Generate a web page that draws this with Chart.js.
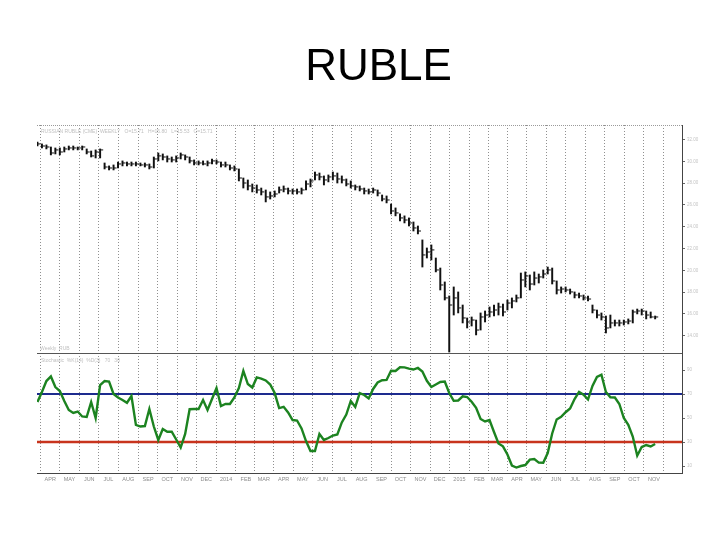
<!DOCTYPE html>
<html>
<head>
<meta charset="utf-8">
<script src="https://cdn.jsdelivr.net/npm/chart.js@4.4.1/dist/chart.umd.min.js"></script>
<style>
  html, body { margin: 0; padding: 0; background: #fff; }
  canvas { display: block; }
</style>
</head>
<body>
<canvas id="graphique" width="720" height="540"></canvas>
<script>
// ------------------------------------------------------------
// Rouble — barres hebdomadaires (haut / bas / clôture) en haut,
// oscillateur avec niveaux 70 / 30 en bas. Axe X = n° de semaine.
// ------------------------------------------------------------

// Prix en USD pour 1000 RUB, une valeur par semaine
const HAUTS = [
  31.79, 31.61, 31.52, 31.33, 31.24, 31.24, 31.33, 31.42, 31.42, 31.33,
  31.42, 31.15, 30.96, 31.06, 31.15, 29.86, 29.59, 29.68, 29.95, 30.05,
  29.95, 29.95, 29.95, 29.86, 29.86, 29.77, 30.41, 30.78, 30.69, 30.51,
  30.41, 30.51, 30.78, 30.60, 30.41, 30.14, 30.05, 30.05, 30.05, 30.23,
  30.14, 29.95, 29.95, 29.68, 29.59, 29.31, 28.48, 28.30, 27.93, 27.84,
  27.56, 27.38, 27.20, 27.29, 27.66, 27.75, 27.56, 27.47, 27.47, 27.56,
  28.21, 28.39, 29.03, 28.94, 28.67, 28.76, 29.03, 28.94, 28.67, 28.39,
  28.21, 27.84, 27.75, 27.56, 27.47, 27.56, 27.38, 26.92, 26.83, 26.09,
  25.73, 25.18, 25.00, 24.81, 24.44, 24.07, 22.79, 22.05, 22.33, 21.13,
  20.21, 18.93, 17.64, 18.47, 18.01, 16.81, 15.62, 15.71, 15.43, 16.08,
  16.26, 16.63, 16.81, 16.99, 16.90, 17.27, 17.46, 17.73, 19.75, 19.85,
  19.57, 19.85, 19.66, 20.03, 20.30, 20.21, 19.02, 18.47, 18.47, 18.28,
  18.01, 17.91, 17.73, 17.64, 16.81, 16.35, 16.08, 15.80, 15.89, 15.43,
  15.43, 15.43, 15.53, 16.35, 16.44, 16.44, 16.26, 16.17, 15.80,
]
const BAS = [
  31.42, 31.24, 31.15, 30.60, 30.69, 30.60, 30.87, 31.06, 31.06, 31.06,
  31.06, 30.69, 30.41, 30.32, 30.32, 29.31, 29.22, 29.22, 29.40, 29.59,
  29.59, 29.59, 29.59, 29.59, 29.49, 29.31, 29.40, 30.05, 30.14, 29.95,
  29.95, 29.95, 30.23, 30.14, 29.86, 29.68, 29.68, 29.68, 29.59, 29.77,
  29.77, 29.49, 29.49, 29.22, 29.13, 28.21, 27.56, 27.38, 27.20, 27.10,
  26.92, 26.28, 26.55, 26.74, 27.10, 27.20, 27.01, 27.01, 27.01, 27.01,
  27.38, 27.66, 28.30, 28.30, 27.84, 28.12, 28.30, 28.02, 28.02, 27.75,
  27.56, 27.38, 27.29, 27.01, 27.01, 27.10, 26.83, 26.37, 26.19, 25.18,
  25.00, 24.53, 24.35, 24.07, 23.61, 23.34, 20.30, 21.13, 20.95, 19.85,
  18.19, 17.27, 12.49, 15.89, 16.08, 15.16, 14.70, 14.88, 14.06, 14.51,
  15.25, 15.71, 15.80, 15.89, 15.80, 16.35, 16.54, 17.09, 17.46, 18.47,
  18.19, 18.65, 18.83, 19.29, 19.66, 18.74, 17.82, 17.91, 18.01, 17.82,
  17.46, 17.46, 17.27, 17.18, 16.08, 15.62, 15.43, 14.24, 14.70, 14.88,
  14.88, 14.97, 15.07, 15.16, 15.99, 15.89, 15.53, 15.62, 15.53,
]
const CLOTURES = [
  31.61, 31.42, 31.33, 30.78, 31.06, 30.87, 31.15, 31.24, 31.24, 31.24,
  31.33, 30.87, 30.51, 30.87, 31.06, 29.49, 29.40, 29.40, 29.77, 29.86,
  29.77, 29.77, 29.77, 29.68, 29.68, 29.49, 30.23, 30.51, 30.41, 30.23,
  30.14, 30.32, 30.60, 30.41, 30.05, 29.86, 29.86, 29.77, 29.86, 30.05,
  29.95, 29.68, 29.68, 29.40, 29.31, 28.48, 28.02, 27.75, 27.56, 27.38,
  27.20, 26.74, 26.83, 27.01, 27.38, 27.47, 27.29, 27.29, 27.20, 27.38,
  27.93, 28.21, 28.76, 28.58, 28.30, 28.58, 28.67, 28.39, 28.30, 27.93,
  27.75, 27.66, 27.47, 27.29, 27.20, 27.38, 27.10, 26.55, 26.46, 25.45,
  25.27, 24.81, 24.62, 24.35, 23.89, 23.61, 21.41, 21.68, 21.87, 20.03,
  18.65, 17.46, 16.81, 17.46, 16.54, 15.62, 15.25, 15.43, 14.51, 15.71,
  15.89, 16.17, 16.35, 16.63, 16.17, 16.99, 17.18, 17.46, 19.11, 19.48,
  18.74, 19.29, 19.39, 19.66, 20.03, 19.02, 18.19, 18.28, 18.19, 18.01,
  17.73, 17.64, 17.46, 17.36, 16.35, 15.89, 15.71, 14.70, 15.16, 15.16,
  15.16, 15.25, 15.34, 16.17, 16.26, 16.26, 15.89, 15.71, 15.71,
]

// Oscillateur (0–100), une valeur par semaine
const OSCILLATEUR = [
  63.3, 71.7, 80.8, 84.6, 75.8, 72.5, 64.2, 56.7, 54.2, 55.4,
  51.3, 50.8, 63.3, 50.0, 77.5, 80.8, 80.3, 70.0, 67.1, 65.0,
  62.7, 68.3, 44.2, 42.9, 43.3, 57.5, 42.9, 31.7, 40.8, 38.6,
  38.6, 32.1, 25.4, 36.7, 57.3, 57.5, 57.5, 65.0, 56.7, 65.8,
  75.0, 60.0, 61.7, 61.7, 67.1, 75.0, 89.2, 78.3, 75.4, 83.8,
  82.9, 81.3, 77.9, 70.8, 58.3, 59.3, 54.6, 48.3, 47.9, 41.3,
  30.8, 22.5, 22.5, 36.7, 31.7, 33.3, 35.4, 36.3, 46.3, 52.9,
  64.2, 59.2, 70.8, 69.2, 66.3, 74.2, 79.6, 81.5, 81.7, 89.3,
  89.2, 92.3, 92.2, 91.2, 90.4, 91.7, 88.8, 81.0, 75.8, 77.9,
  80.0, 80.4, 70.8, 64.3, 64.6, 68.1, 67.5, 63.6, 58.5, 49.2,
  47.1, 48.3, 38.3, 28.8, 26.4, 19.6, 10.4, 8.7, 10.0, 10.8,
  15.3, 15.8, 12.8, 12.7, 20.8, 37.1, 48.8, 51.0, 54.8, 57.9,
  65.8, 71.7, 69.5, 65.4, 76.7, 84.2, 86.1, 71.7, 67.3, 67.1,
  61.7, 50.0, 44.4, 34.6, 18.6, 25.8, 27.5, 26.3, 28.3,
]
const NIVEAU_HAUT = 70
const NIVEAU_BAS = 30

// Étiquettes de l'axe X : un mois par graduation, d'avril 2013 à novembre 2015
const MOIS = [
  'APR', 'MAY', 'JUN', 'JUL', 'AUG', 'SEP', 'OCT', 'NOV', 'DEC',
  '2014', 'FEB', 'MAR', 'APR', 'MAY', 'JUN', 'JUL', 'AUG', 'SEP', 'OCT', 'NOV', 'DEC',
  '2015', 'FEB', 'MAR', 'APR', 'MAY', 'JUN', 'JUL', 'AUG', 'SEP', 'OCT', 'NOV',
]
const TICKS_PRIX = [14, 16, 18, 20, 22, 24, 26, 28, 30, 32]
const TICKS_OSC = [10, 30, 50, 70, 90]

const NOIR   = '#111111'
const VERT   = '#1c8320'
const BLEU   = '#1d2b8e'
const ROUGE  = '#c8341d'
const GRILLE = '#8f8f8f'
const GRIS   = '#8c8c8c'
const FONTE  = "'Liberation Sans', Arial, sans-serif"

// Semaine 0 = 12 mars 2013 ; graduations au 1er de chaque mois
const DEBUT = Date.UTC(2013, 2, 12)
const SEMAINE = 7 * 86400000
const positionsMois = MOIS.map((_, k) => (Date.UTC(2013, 3 + k, 1) - DEBUT) / SEMAINE)
const X_MIN = -0.1
const X_MAX = 144.0

const barresHB = HAUTS.map((h, i) => ({ x: i, y: [BAS[i], h] }))
const tiretsCloture = CLOTURES.map((c, i) => ({ x: i + 0.33, y: c }))
const courbeOsc = OSCILLATEUR.map((v, i) => ({ x: i, y: v }))
const horizontale = v => [{ x: X_MIN, y: v }, { x: X_MAX, y: v }]

// Cadre : ligne pointillée en haut, séparation entre les deux panneaux
const cadre = {
  id: 'cadre',
  beforeDatasetsDraw(chart) {
    const { ctx, chartArea, scales } = chart
    ctx.save()
    ctx.strokeStyle = '#9a9a9a'
    ctx.lineWidth = 1
    ctx.setLineDash([1, 1])
    ctx.beginPath()
    ctx.moveTo(chartArea.left, chartArea.top + 0.5)
    ctx.lineTo(chartArea.right, chartArea.top + 0.5)
    ctx.stroke()
    ctx.setLineDash([])
    ctx.strokeStyle = '#555'
    ctx.beginPath()
    ctx.moveTo(chartArea.left, Math.round(scales.y.bottom) + 0.5)
    ctx.lineTo(chartArea.right, Math.round(scales.y.bottom) + 0.5)
    ctx.stroke()
    ctx.restore()
  },
  afterDraw(chart) {
    const { ctx, chartArea, scales } = chart
    ctx.save()
    ctx.font = `5px ${FONTE}`
    ctx.fillStyle = '#c0c0c0'
    ctx.textBaseline = 'top'
    ctx.fillText('RUSSIAN RUBLE (CME)  WEEKLY   O=15.71   H=15.80   L=15.53   C=15.71', chartArea.left + 4, chartArea.top + 4)
    ctx.fillText('Weekly  RUB', chartArea.left + 3, scales.y.bottom - 7)
    ctx.fillText('Stochastic  %K(14)  %D(3)   70   30', chartArea.left + 4, scales.y2.top + 5)
    ctx.restore()
  },
}

const fondBlanc = {
  id: 'fondBlanc',
  beforeDraw(chart) {
    const { ctx, width, height } = chart
    ctx.save()
    ctx.fillStyle = '#FFFFFF'
    ctx.fillRect(0, 0, width, height)
    ctx.restore()
  },
}

const axeDroit = (min, max, poids, valeurs, format) => ({
  type: 'linear', position: 'right', stack: 'panneaux', stackWeight: poids,
  min, max,
  afterBuildTicks: s => { s.ticks = valeurs.map(v => ({ value: v })) },
  afterFit: s => { s.width = 38 },
  ticks: { font: { family: FONTE, size: 4.5 }, color: '#c4c4c4', padding: 2, callback: format },
  grid: { drawOnChartArea: false, tickLength: 3, tickColor: '#666', tickWidth: 1 },
  border: { color: '#444', width: 1 },
})

new Chart(document.getElementById('graphique').getContext('2d'), {
  type: 'bar',
  data: {
    datasets: [
      { type: 'line', data: courbeOsc, yAxisID: 'y2', borderColor: VERT, borderWidth: 2.4,
        pointRadius: 0, tension: 0, order: 1 },
      { type: 'line', data: horizontale(NIVEAU_HAUT), yAxisID: 'y2', borderColor: BLEU, borderWidth: 2,
        pointRadius: 0, order: 2 },
      { type: 'line', data: horizontale(NIVEAU_BAS), yAxisID: 'y2', borderColor: ROUGE, borderWidth: 2.4,
        pointRadius: 0, order: 2 },
      { type: 'bar', data: barresHB, yAxisID: 'y', backgroundColor: NOIR, barThickness: 1.3,
        grouped: false, order: 3 },
      { type: 'line', data: tiretsCloture, yAxisID: 'y', showLine: false, pointStyle: 'line',
        pointRadius: 1.6, borderColor: NOIR, borderWidth: 1, order: 3 },
    ],
  },
  options: {
    responsive: false,
    animation: false,
    devicePixelRatio: 1,
    layout: { padding: { left: 37, right: 0, top: 0, bottom: 55 } },
    plugins: {
      title: {
        display: true, text: 'RUBLE', color: '#000',
        font: { family: FONTE, size: 44, weight: 'normal' },
        padding: { top: 41.6, bottom: 30.6 },
      },
      legend: { display: false },
      tooltip: { enabled: false },
    },
    scales: {
      x: {
        type: 'linear', min: X_MIN, max: X_MAX, offset: false,
        afterBuildTicks: s => { s.ticks = positionsMois.map(v => ({ value: v })) },
        afterFit: s => { s.height = 12 },
        ticks: {
          autoSkip: false, maxRotation: 0, padding: 3,
          font: { family: FONTE, size: 5.5 }, color: GRIS,
          callback: (v, i) => MOIS[i],
        },
        grid: { color: GRILLE, lineWidth: 1, drawTicks: false },
        border: { color: '#444', width: 1, dash: [1, 2] },
      },
      y: axeDroit(12.4, 33.35, 228, TICKS_PRIX, v => v.toFixed(2)),
      y2: axeDroit(4.17, 104.17, 120, TICKS_OSC, v => String(v)),
    },
  },
  plugins: [fondBlanc, cadre],
})
</script>
</body>
</html>
